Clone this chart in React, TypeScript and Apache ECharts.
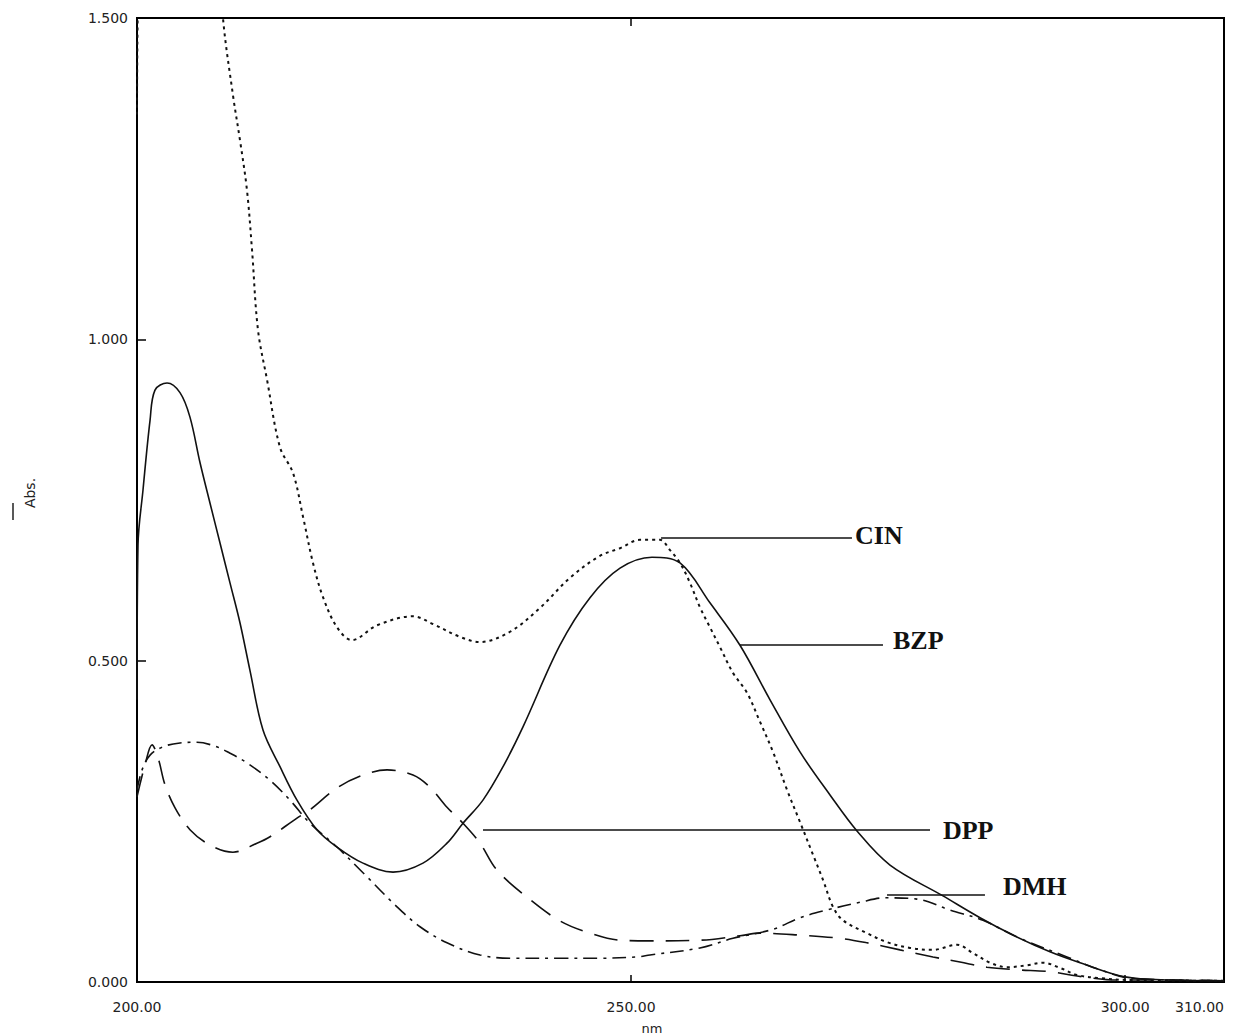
import React, { useEffect, useRef } from "react";
import * as echarts from "echarts";

// Absorption spectra, [wavelength nm, absorbance]
const bzpSpectrum: number[][] = [
  [200.0, 0.439], [200.1, 0.68], [200.61, 0.766], [201.32, 0.874], [201.82, 0.921],
  [203.04, 0.932], [204.35, 0.917], [205.36, 0.879], [206.38, 0.808], [207.39, 0.745],
  [208.4, 0.683], [209.41, 0.621], [210.42, 0.559], [211.43, 0.485], [212.75, 0.392],
  [214.47, 0.335], [216.19, 0.283], [218.21, 0.237], [220.24, 0.21], [222.87, 0.185],
  [225.91, 0.171], [228.94, 0.185], [231.37, 0.216], [232.99, 0.247], [235.01, 0.283],
  [237.04, 0.335], [239.06, 0.397], [242.8, 0.524], [245.84, 0.598], [248.88, 0.644],
  [252.11, 0.661], [254.95, 0.652], [257.98, 0.59], [261.02, 0.524], [264.06, 0.439],
  [267.09, 0.358], [270.13, 0.291], [272.86, 0.235], [276.2, 0.182], [281.56, 0.134],
  [285.31, 0.1], [288.65, 0.073], [292.39, 0.047], [295.43, 0.03], [299.98, 0.008],
  [304.53, 0.003], [310.0, 0.002],
];

const cinSpectrum: number[][] = [
  [200.0, 1.35], [200.25, 1.62], [204.0, 2.4], [208.3, 1.62], [208.7, 1.5],
  [209.71, 1.38], [210.42, 1.31], [211.13, 1.232], [211.64, 1.139], [212.24, 1.015],
  [213.16, 0.937], [214.47, 0.832], [215.79, 0.792], [216.8, 0.724], [217.81, 0.652],
  [218.82, 0.599], [220.24, 0.552], [221.76, 0.532], [224.29, 0.555], [227.93, 0.569],
  [229.95, 0.557], [232.69, 0.537], [234.71, 0.529], [237.75, 0.545], [240.78, 0.582],
  [243.82, 0.629], [246.85, 0.663], [248.88, 0.675], [250.9, 0.688], [252.92, 0.688],
  [253.94, 0.672], [254.95, 0.652], [255.96, 0.621], [256.97, 0.583], [257.98, 0.552],
  [259.0, 0.521], [260.31, 0.481], [261.73, 0.45], [263.04, 0.405], [264.36, 0.358],
  [265.78, 0.299], [267.09, 0.249], [268.41, 0.198], [269.42, 0.159], [270.43, 0.117],
  [271.44, 0.096], [273.87, 0.076], [275.9, 0.062], [278.22, 0.053], [280.55, 0.05],
  [282.98, 0.058], [284.6, 0.045], [286.32, 0.03], [288.04, 0.023], [290.06, 0.026],
  [291.68, 0.03], [293.4, 0.022], [295.12, 0.011], [297.45, 0.006], [300.49, 0.003],
  [310.0, 0.002],
];

const dppSpectrum: number[][] = [
  [200.0, 0.288], [200.81, 0.338], [201.52, 0.369], [202.13, 0.349], [202.83, 0.307],
  [203.85, 0.271], [205.36, 0.237], [207.39, 0.213], [209.71, 0.202], [212.14, 0.216],
  [213.46, 0.226], [216.19, 0.255], [217.51, 0.268], [220.24, 0.302], [222.87, 0.322],
  [225.3, 0.33], [227.93, 0.322], [229.65, 0.303], [231.37, 0.272], [232.99, 0.247],
  [234.71, 0.216], [236.43, 0.174], [239.47, 0.132], [242.8, 0.095], [245.84, 0.076],
  [248.88, 0.065], [251.91, 0.064], [256.97, 0.065], [261.02, 0.072], [263.04, 0.076],
  [267.09, 0.073], [271.14, 0.068], [273.87, 0.061], [277.21, 0.05], [280.55, 0.039],
  [283.28, 0.031], [286.01, 0.023], [289.05, 0.019], [292.39, 0.016], [295.73, 0.008],
  [299.17, 0.003], [304.23, 0.003], [310.0, 0.002],
];

const dmhSpectrum: number[][] = [
  [200.0, 0.299], [200.51, 0.33], [201.32, 0.353], [202.63, 0.366], [204.35, 0.372],
  [206.07, 0.373], [207.89, 0.367], [209.41, 0.356], [211.13, 0.341], [213.46, 0.314],
  [215.48, 0.283], [217.51, 0.247], [220.24, 0.21], [222.87, 0.17], [226.31, 0.117],
  [228.64, 0.086], [231.37, 0.061], [234.71, 0.042], [238.05, 0.037], [242.8, 0.037],
  [246.85, 0.037], [250.6, 0.039], [251.91, 0.042], [256.97, 0.053], [260.31, 0.068],
  [264.36, 0.082], [267.09, 0.1], [269.82, 0.112], [273.16, 0.124], [275.69, 0.131],
  [278.93, 0.129], [282.27, 0.112], [285.61, 0.096], [289.05, 0.07], [294.11, 0.039],
  [297.45, 0.019], [300.49, 0.006], [310.0, 0.002],
];

// Axis ticks
const wavelengthLabels = [200, 250, 300, 310];
const wavelengthInnerTicks = [250, 300];
const topInnerTicks = [250];

// Curve annotations: name, leader line start/end wavelength, leader level, text anchor
const annotationNames = ["CIN", "BZP", "DPP", "DMH"];
const leaderFrom = [253.03, 261.02, 235.01, 275.9];
const leaderTo = [272.35, 275.49, 280.25, 285.81];
const leaderLevel = [0.691, 0.524, 0.2365, 0.1354];
const textAt = [272.66, 276.5, 281.56, 287.63];
const textLevel = [0.694, 0.531, 0.2365, 0.148];

const ink = "#111";

function makeSeries(
  name: string,
  data: number[][],
  dash: number[] | "solid",
  width: number,
  idx: number
) {
  return {
    name,
    type: "line",
    data,
    symbol: "none",
    smooth: 0.35,
    clip: true,
    lineStyle: { color: ink, width, type: dash },
    markLine: {
      silent: true,
      symbol: "none",
      label: { show: false },
      lineStyle: { color: ink, width: 1.6, type: "solid" },
      data: [
        [
          { coord: [leaderFrom[idx], leaderLevel[idx]] },
          { coord: [leaderTo[idx], leaderLevel[idx]] },
        ],
      ],
    },
    markPoint: {
      silent: true,
      symbol: "circle",
      symbolSize: 0,
      data: [
        {
          coord: [textAt[idx], textLevel[idx]],
          label: {
            show: true,
            position: "right",
            distance: 0,
            formatter: annotationNames[idx],
            fontFamily: "Liberation Serif",
            fontWeight: "bold",
            fontSize: 26,
            color: ink,
          },
        },
      ],
    },
  };
}

export default function App() {
  const ref = useRef<HTMLDivElement>(null);

  useEffect(() => {
    if (!ref.current) return;
    const chart = echarts.init(ref.current, null, { renderer: "svg" });
    const tickFont = { fontFamily: "DejaVu Sans", fontSize: 14, color: "#222" };

    chart.setOption({
      animation: false,
      backgroundColor: "#fff",
      grid: {
        left: 137,
        top: 18,
        width: 1087,
        height: 964,
        show: true,
        borderColor: "#000",
        borderWidth: 2,
        backgroundColor: "transparent",
      },
      xAxis: [
        {
          type: "value",
          min: 200,
          max: 310,
          position: "bottom",
          axisLine: { show: true, lineStyle: { color: "#000", width: 2 } },
          axisTick: {
            show: true,
            inside: true,
            length: 7,
            customValues: wavelengthInnerTicks,
            lineStyle: { color: "#000", width: 1.5 },
          },
          axisLabel: {
            ...tickFont,
            margin: 18,
            customValues: wavelengthLabels,
            alignMaxLabel: "right",
            formatter: (v: number) => v.toFixed(2),
          },
          splitLine: { show: false },
        },
        {
          type: "value",
          min: 200,
          max: 310,
          position: "top",
          axisLine: { show: true, lineStyle: { color: "#000", width: 2 } },
          axisTick: {
            show: true,
            inside: true,
            length: 8,
            customValues: topInnerTicks,
            lineStyle: { color: "#000", width: 1.5 },
          },
          axisLabel: { show: false },
          splitLine: { show: false },
        },
      ],
      yAxis: {
        type: "value",
        min: 0,
        max: 1.5,
        interval: 0.5,
        axisLine: { show: true, lineStyle: { color: "#000", width: 2 } },
        axisTick: {
          show: true,
          inside: true,
          length: 9,
          lineStyle: { color: "#000", width: 1.5 },
        },
        axisLabel: {
          ...tickFont,
          margin: 9,
          formatter: (v: number) => v.toFixed(3),
        },
        splitLine: { show: false },
      },
      series: [
        makeSeries("CIN", cinSpectrum, [3, 4], 2, 0),
        makeSeries("BZP", bzpSpectrum, "solid", 1.6, 1),
        makeSeries("DPP", dppSpectrum, [24, 12], 1.6, 2),
        makeSeries("DMH", dmhSpectrum, [14, 6, 3, 6], 1.6, 3),
      ],
      graphic: [
        {
          type: "text",
          x: 652,
          y: 1028,
          style: {
            text: "nm",
            fontFamily: "DejaVu Sans",
            fontSize: 13,
            fill: "#222",
            textAlign: "center",
            textVerticalAlign: "middle",
          },
        },
        {
          type: "text",
          x: 30,
          y: 493,
          rotation: Math.PI / 2,
          style: {
            text: "Abs.",
            fontFamily: "DejaVu Sans",
            fontSize: 14,
            fill: "#222",
            textAlign: "center",
            textVerticalAlign: "middle",
          },
        },
        {
          type: "line",
          shape: { x1: 13, y1: 503, x2: 13, y2: 520 },
          style: { stroke: "#222", lineWidth: 1.5 },
        },
      ],
    });

    return () => chart.dispose();
  }, []);

  return (
    <div
      ref={ref}
      style={{ position: "fixed", left: 0, top: 0, width: 1253, height: 1036 }}
    />
  );
}
